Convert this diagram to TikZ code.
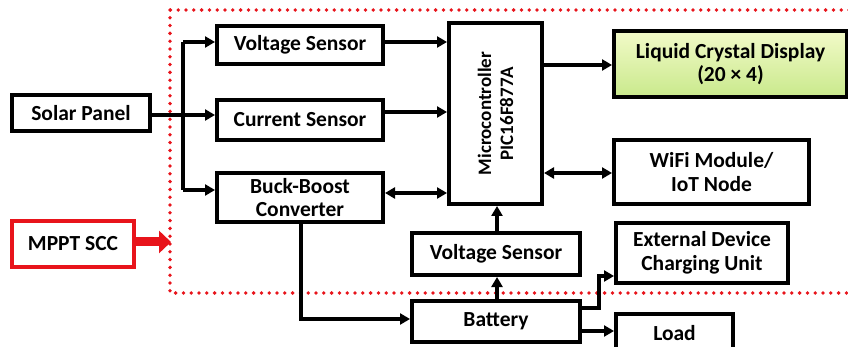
\documentclass[tikz,border=0pt]{standalone}
\usepackage{fontspec}
\setmainfont{Carlito}
\usetikzlibrary{arrows.meta}
\definecolor{lcdtop}{HTML}{F2FAC8}
\definecolor{lcdbot}{HTML}{C9E98C}
\definecolor{dotred}{HTML}{E8141B}
\begin{document}
\begin{tikzpicture}[x=1pt,y=-1pt,
  blk/.style={draw=black,line width=4pt,fill=white,inner sep=0pt,align=center,
    font=\fontsize{21.5}{23.5}\selectfont\bfseries},
  conn/.style={line width=3.2pt,-{Triangle[length=10pt,width=11pt]}},
  biconn/.style={line width=3.2pt,{Triangle[length=10pt,width=11pt]}-{Triangle[length=10pt,width=11pt]}},
  plain/.style={line width=3.2pt}]
\clip (0,0) rectangle (848,347);
\fill[white] (0,0) rectangle (848,347);
% dotted region
\draw[dotred,line width=3.8pt,line cap=round,dash pattern=on 0pt off 7.8pt] (170,10) rectangle (870,293);
% nodes
\node[blk,minimum width=138pt,minimum height=36pt] (solar) at (81,113) {Solar Panel};
\node[blk,minimum width=166pt,minimum height=38pt] (vs1) at (300,45) {Voltage Sensor};
\node[blk,minimum width=166pt,minimum height=40pt] (cs) at (300,120) {Current Sensor};
\node[blk,minimum width=166pt,minimum height=49pt] (bb) at (300,197.5) {Buck-Boost\\Converter};
\node[blk,draw=dotred,minimum width=122pt,minimum height=46pt] (mppt) at (73,244) {MPPT SCC};
\node[blk,minimum width=93pt,minimum height=181pt] (mc) at (495.5,113.5) {};
\node[font=\fontsize{19}{22}\selectfont\bfseries,align=center,rotate=90] (mctext) at (mc.center) {Microcontroller\\PIC16F877A};
\node[blk,top color=lcdtop,bottom color=lcdbot,minimum width=233pt,minimum height=66pt] (lcd) at (730.5,64) {Liquid Crystal Display\\(20 × 4)};
\node[blk,minimum width=195pt,minimum height=64pt] (wifi) at (711.5,172) {WiFi Module/\\IoT Node};
\node[blk,minimum width=168pt,minimum height=42pt] (vs2) at (496,254) {Voltage Sensor};
\node[blk,minimum width=172pt,minimum height=60pt] (ext) at (702,253) {External Device\\Charging Unit};
\node[blk,minimum width=168pt,minimum height=41pt] (bat) at (496,321.5) {Battery};
\node[blk,minimum width=117pt,minimum height=38pt,anchor=north] (load) at (674.5,312) {Load};
% helper coordinates
\coordinate (trunk) at (183,115);
\coordinate (bend1) at (301,319);
\coordinate (bend2) at (599,308);
% connectors
\draw[plain] (solar.east |- trunk) -- (trunk);
\draw[plain] (183,42) -- (183,190);
\draw[conn] (trunk |- 0,42) -- (vs1.west |- 0,42);
\draw[conn] (trunk) -- (cs.west |- trunk);
\draw[conn] (trunk |- 0,190) -- (bb.west |- 0,190);
\draw[conn] (vs1.east |- 0,42) -- (mc.west |- 0,42);
\draw[conn] (cs.east |- 0,112) -- (mc.west |- 0,112);
\draw[biconn] (bb.east |- 0,193) -- (mc.west |- 0,193);
\draw[conn] (mc.east |- 0,65) -- (lcd.west |- 0,65);
\draw[biconn] (mc.east |- 0,173) -- (wifi.west |- 0,173);
\draw[conn] (497,0 |- vs2.north) -- (497,0 |- mc.south);
\draw[conn] (497,0 |- bat.north) -- (497,0 |- vs2.south);
\draw[conn] (301,0 |- bb.south) -- (bend1) -- (bat.west |- bend1);
\draw[conn] (bat.east |- bend2) -- (bend2) -- (599,276) -- (ext.west |- 0,276);
\draw[conn] (bat.east |- 0,331) -- (load.west |- 0,331);
\draw[dotred,line width=9pt,-{Triangle[length=12pt,width=22pt]}] (mppt.east |- 0,242) -- (171,242);
\end{tikzpicture}
\end{document}
